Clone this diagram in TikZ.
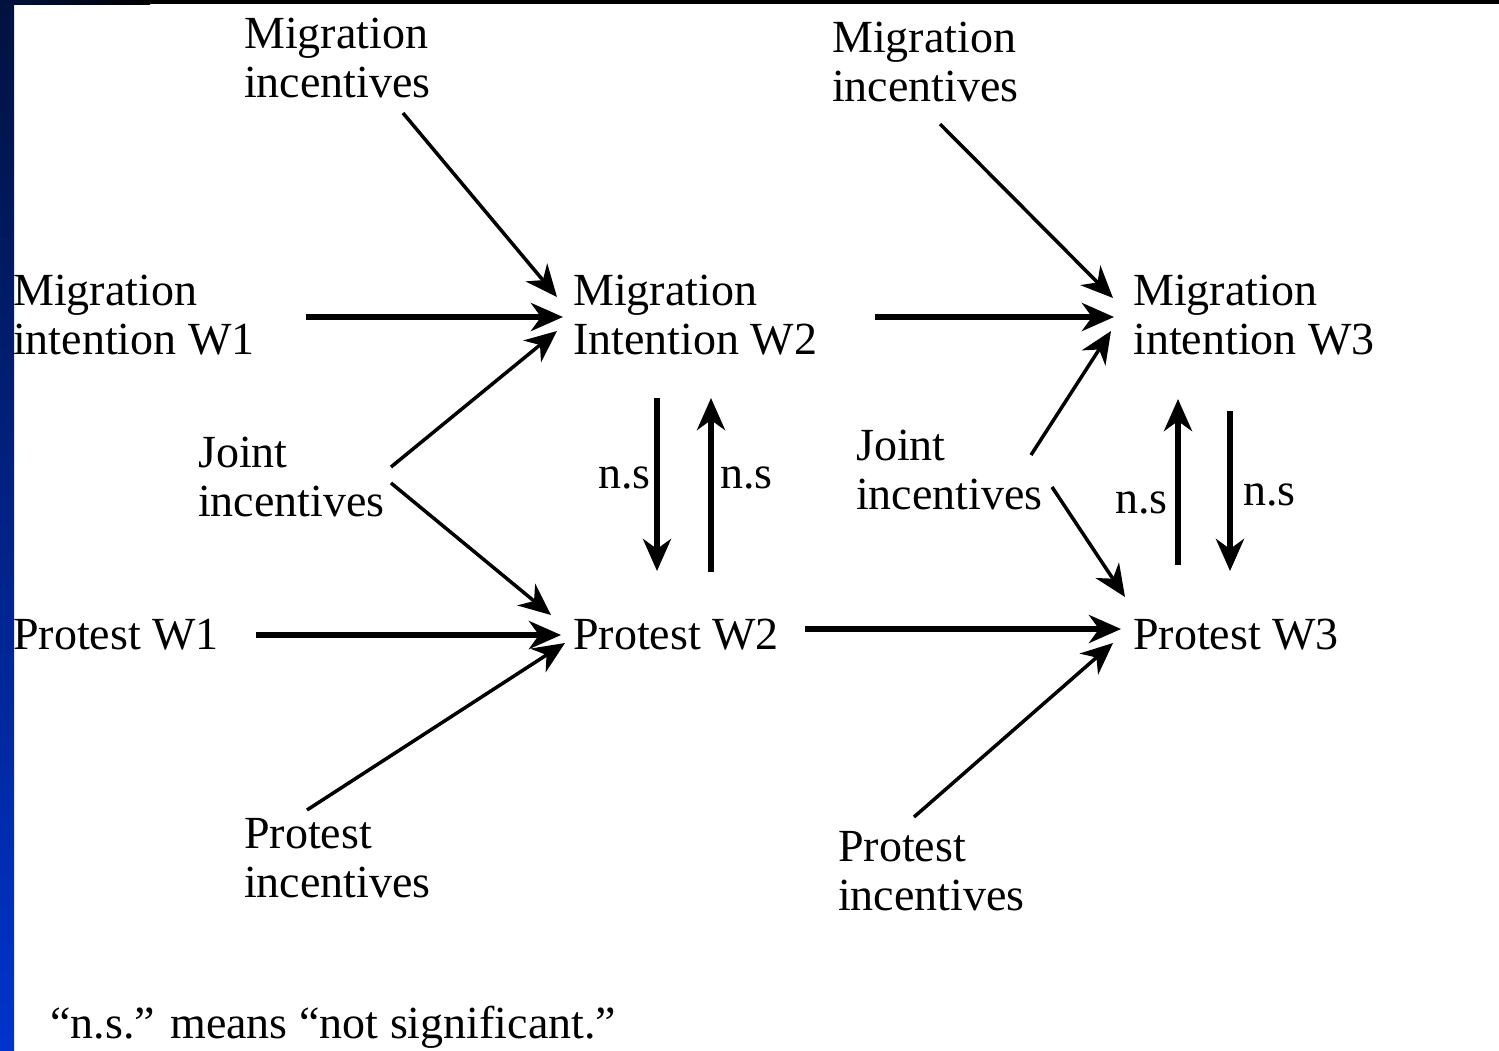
\documentclass[tikz,border=0pt]{standalone}
\usepackage{fontspec}
\setmainfont{Liberation Serif}
\usetikzlibrary{arrows.meta}
\definecolor{navyblue}{HTML}{00123F}
\definecolor{brightblue}{HTML}{0033CC}
\begin{document}
\begin{tikzpicture}[x=1pt,y=-1pt,
  font=\fontsize{46}{49}\selectfont,
  lbl/.style={anchor=base west, align=left, inner sep=0pt},
  tip/.style={-{Stealth[length=32pt,width=28pt,inset=10pt]}},
  thinarr/.style={tip, line width=3.5pt},
  thickarr/.style={tip, line width=6pt}]
\useasboundingbox (0,0) rectangle (1499,1050);
\fill[white] (0,0) rectangle (1499,1050);
% frame decoration
\fill[top color=navyblue, bottom color=brightblue] (0,0) rectangle (14,1050);
\fill[black] (0,0) rectangle (1499,4);
\fill[left color=navyblue, right color=black] (0,0) rectangle (150,4);

% labels (multi-line nodes: base = baseline of last line)
\node[lbl] (mi1) at (244,97) {Migration\\incentives};
\node[lbl] (mi2) at (832,101) {Migration\\incentives};
\node[lbl] (mw1) at (13,354) {Migration\\intention W1};
\node[lbl] (mw2) at (573,354) {Migration\\Intention W2};
\node[lbl] (mw3) at (1133,354) {Migration\\intention W3};
\node[lbl] (ji1) at (198,516) {Joint\\incentives};
\node[lbl] (ji2) at (856,509) {Joint\\incentives};
\node[lbl] (pw1) at (13,649) {Protest W1};
\node[lbl] (pw2) at (573,649) {Protest W2};
\node[lbl] (pw3) at (1133,649) {Protest W3};
\node[lbl] (pi1) at (244,897) {Protest\\incentives};
\node[lbl] (pi2) at (838,910) {Protest\\incentives};
\node[lbl] (ns1) at (598,488) {n.s};
\node[lbl] (ns2) at (720,488) {n.s};
\node[lbl] (ns3) at (1115,513) {n.s};
\node[lbl] (ns4) at (1243,505) {n.s};
\node[lbl] (note) at (50,1038) {``n.s.'' means ``not significant.''};

% connector end points
\coordinate (a1s) at (403,113);  \coordinate (a1e) at (557,297);
\coordinate (a2s) at (306,317);  \coordinate (a2e) at (563,317);
\coordinate (a3s) at (391,467);  \coordinate (a3e) at (557,331);
\coordinate (a4s) at (391,483);  \coordinate (a4e) at (551,615);
\coordinate (a5s) at (256,635);  \coordinate (a5e) at (561,635);
\coordinate (a6s) at (307,810);  \coordinate (a6e) at (565,643);
\coordinate (a7s) at (657,398);  \coordinate (a7e) at (657,571);
\coordinate (a8s) at (711,572);  \coordinate (a8e) at (711,398);
\coordinate (a9s) at (875,317);  \coordinate (a9e) at (1114,317);
\coordinate (b1s) at (940,124);  \coordinate (b1e) at (1113,298);
\coordinate (b2s) at (1031,455); \coordinate (b2e) at (1111,331);
\coordinate (b3s) at (1052,487); \coordinate (b3e) at (1125,597);
\coordinate (b4s) at (805,629);  \coordinate (b4e) at (1121,629);
\coordinate (b5s) at (914,817);  \coordinate (b5e) at (1113,643);
\coordinate (b6s) at (1178,565); \coordinate (b6e) at (1178,399);
\coordinate (b7s) at (1230,411); \coordinate (b7e) at (1230,571);

\draw[thinarr]  (a1s) -- (a1e);
\draw[thickarr] (a2s) -- (a2e);
\draw[thinarr]  (a3s) -- (a3e);
\draw[thinarr]  (a4s) -- (a4e);
\draw[thickarr] (a5s) -- (a5e);
\draw[thinarr]  (a6s) -- (a6e);
\draw[thickarr] (a7s) -- (a7e);
\draw[thickarr] (a8s) -- (a8e);
\draw[thickarr] (a9s) -- (a9e);
\draw[thinarr]  (b1s) -- (b1e);
\draw[thinarr]  (b2s) -- (b2e);
\draw[thinarr]  (b3s) -- (b3e);
\draw[thickarr] (b4s) -- (b4e);
\draw[thinarr]  (b5s) -- (b5e);
\draw[thickarr] (b6s) -- (b6e);
\draw[thickarr] (b7s) -- (b7e);
\end{tikzpicture}
\end{document}
